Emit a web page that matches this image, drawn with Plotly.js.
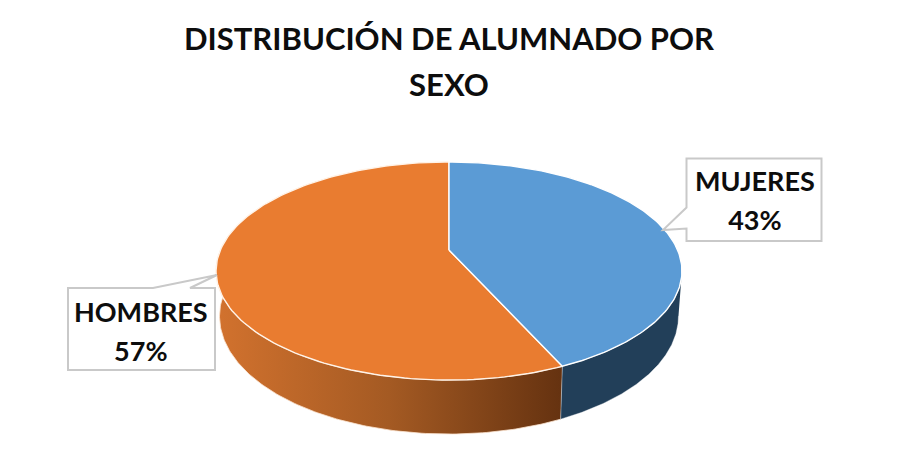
<!DOCTYPE html>
<html><head><meta charset="utf-8">
<script src="https://cdn.plot.ly/plotly-3.0.1.min.js"></script>
<style>html,body{margin:0;padding:0;background:#fff}</style></head>
<body><div id="chart" style="width:901px;height:460px"></div>
<script>
const categories = ['MUJERES', 'HOMBRES'];
const shares = [43.3, 56.7];
const topColors = ['#5B9BD5', '#E97C30'];
const chartTitle = 'DISTRIBUCIÓN DE ALUMNADO POR<br>SEXO';
const FONT = 'Lato, "Open Sans", sans-serif';

// perspective projection of the pie disc
const cx = 449, cy = 250, A = 228.6, B = 105, K = 0.1927, DEPTH = 43.6;
function rim(deg, drop) {
  const t = deg * Math.PI / 180, Y = -Math.cos(t), w = 1 - K * Y;
  return [cx + A * Math.sin(t) / w * (drop ? 0.985 : 1), cy + B * Y / w + (drop ? DEPTH / w : 0)];
}
function arc(a, b, drop) {
  const out = [], n = 160;
  for (let i = 0; i <= n; i++) out.push(rim(a + (b - a) * i / n, drop));
  return out;
}
const total = shares.reduce((s, v) => s + v, 0);
const split = shares[0] / total * 360;
const mk = (pts, extra) => Object.assign({
  type: 'scatter', mode: 'lines', fill: 'toself', hoverinfo: 'skip', showlegend: false,
  x: pts.map(p => p[0]), y: pts.map(p => p[1])
}, extra);

const sideBlue = arc(101, split, false).concat(arc(split, 101, true));
const sideOrange = arc(split, 281, false).concat(arc(281, split, true));
const topBlue = [[cx, cy]].concat(arc(0, split, false), [[cx, cy]]);
const topOrange = [[cx, cy]].concat(arc(split, 360, false), [[cx, cy]]);

const traces = [
  mk(sideOrange, {line: {color: '#FBE3CF', width: 0.8}, fillcolor: '#8A4C1E',
    fillgradient: {type: 'horizontal', colorscale: [[0, '#D2722E'], [0.5, '#A45A23'], [1, '#653210']]}}),
  mk(sideBlue, {line: {color: 'rgba(255,255,255,0.5)', width: 0.8}, fillcolor: '#223F59'}),
  mk(topOrange, {line: {color: '#FFF3E8', width: 1.4}, fillcolor: topColors[1]}),
  mk(topBlue, {line: {color: '#FFFFFF', width: 1.4}, fillcolor: topColors[0]})
];

const labelText = i => categories[i] + '<br>' + Math.round(shares[i]) + '%';
const boxStyle = {color: '#C9C9C9', width: 2};
const layout = {
  width: 901, height: 460, margin: {l: 0, r: 0, t: 0, b: 0},
  paper_bgcolor: '#fff', plot_bgcolor: '#fff', showlegend: false,
  xaxis: {range: [0, 901], visible: false, fixedrange: true},
  yaxis: {range: [460, 0], visible: false, fixedrange: true},
  title: {text: chartTitle, x: 449 / 901, xanchor: 'center', y: 0.892, yanchor: 'middle',
    font: {family: FONT, size: 31, color: '#0D0D0D', weight: 700}},
  shapes: [
    {type: 'path', xref: 'x', yref: 'y', fillcolor: '#fff', line: boxStyle,
     path: 'M686.5 158.5 L821.5 158.5 L821.5 241 L686.5 241 L686.5 228.5 L663 230 L686.5 207.5 Z'},
    {type: 'path', xref: 'x', yref: 'y', fillcolor: '#fff', line: boxStyle,
     path: 'M68 288 L153 288 L217 275 L190 288 L215 288 L215 370 L68 370 Z'}
  ],
  annotations: [
    {xref: 'x', yref: 'y', x: 754.5, y: 197.5, text: '<b>' + labelText(0) + '</b>', showarrow: false,
     align: 'center', font: {family: FONT, size: 27, color: '#0D0D0D'}},
    {xref: 'x', yref: 'y', x: 141, y: 329, text: '<b>' + labelText(1) + '</b>', showarrow: false,
     align: 'center', font: {family: FONT, size: 27, color: '#0D0D0D'}}
  ]
};
Plotly.newPlot('chart', traces, layout, {displayModeBar: false, staticPlot: true}).then(() => {
  const spaceLines = (sel, px) => document.querySelectorAll(sel).forEach(t => {
    const lines = t.querySelectorAll('.line');
    if (lines[1]) lines[1].setAttribute('dy', px + 'px');
  });
  spaceLines('.gtitle', 46);
  spaceLines('.annotation-text', 39);
});
</script></body></html>
